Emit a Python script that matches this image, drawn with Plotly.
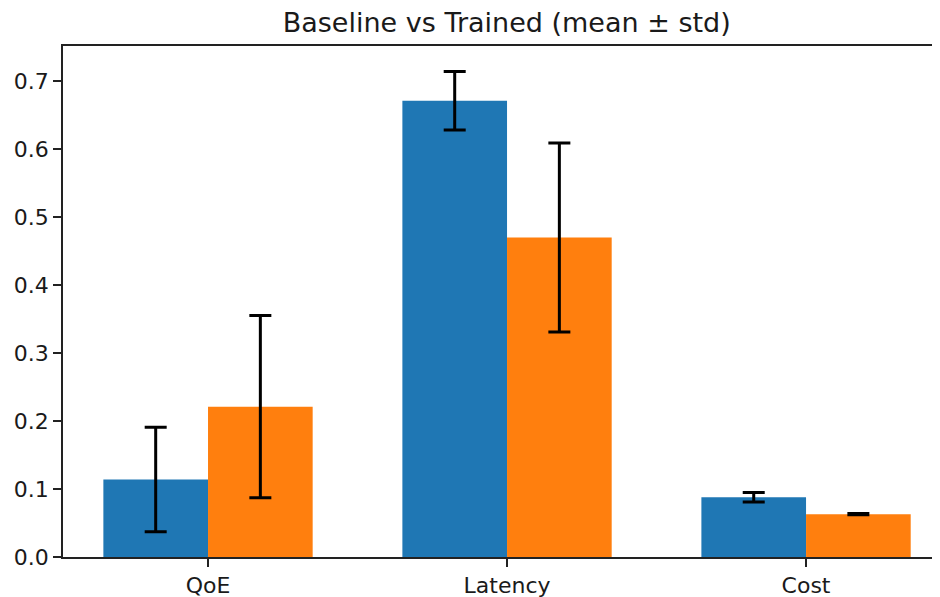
import plotly.graph_objects as go

categories = ["QoE", "Latency", "Cost"]
baseline_mean = [0.114, 0.671, 0.088]
baseline_std = [0.077, 0.043, 0.007]
trained_mean = [0.221, 0.470, 0.063]
trained_std = [0.134, 0.139, 0.001]

x_pos = list(range(len(categories)))

fig = go.Figure()
fig.add_trace(go.Bar(
    x=x_pos, y=baseline_mean, name="Baseline",
    marker=dict(color="#1f77b4", line=dict(width=0)),
    error_y=dict(type="data", array=baseline_std, visible=True,
                 color="black", thickness=3, width=11),
))
fig.add_trace(go.Bar(
    x=x_pos, y=trained_mean, name="Trained",
    marker=dict(color="#ff7f0e", line=dict(width=0)),
    error_y=dict(type="data", array=trained_std, visible=True,
                 color="black", thickness=3, width=11),
))

# The page body adds an 8px offset; the figure is sized to compensate.
fig.update_layout(
    width=932, height=589,
    margin=dict(l=55, r=0, t=38, b=40),
    barmode="group", bargap=0.3, bargroupgap=0,
    showlegend=False,
    paper_bgcolor="white", plot_bgcolor="white",
    font=dict(family="DejaVu Sans", size=22, color="#1a1a1a"),
    title=dict(text="Baseline vs Trained (mean ± std)",
               x=0.506, xref="paper", xanchor="center",
               y=0.975, yref="container", yanchor="middle",
               font=dict(size=27, color="#1a1a1a")),
)
fig.update_xaxes(
    range=[-0.485, 2.448],
    tickmode="array", tickvals=x_pos, ticktext=categories,
    showline=True, linecolor="#222", linewidth=1.6, mirror=True,
    ticks="outside", ticklen=8, tickwidth=1.6, tickcolor="#222",
    showgrid=False, zeroline=False,
)
fig.update_yaxes(
    range=[0, 0.7515], dtick=0.1, tick0=0, tickformat=".1f",
    showline=True, linecolor="#222", linewidth=1.6,
    ticks="outside", ticklen=8, tickwidth=1.6, tickcolor="#222",
    showgrid=False, zeroline=False,
)

fig.write_html("out.html")
